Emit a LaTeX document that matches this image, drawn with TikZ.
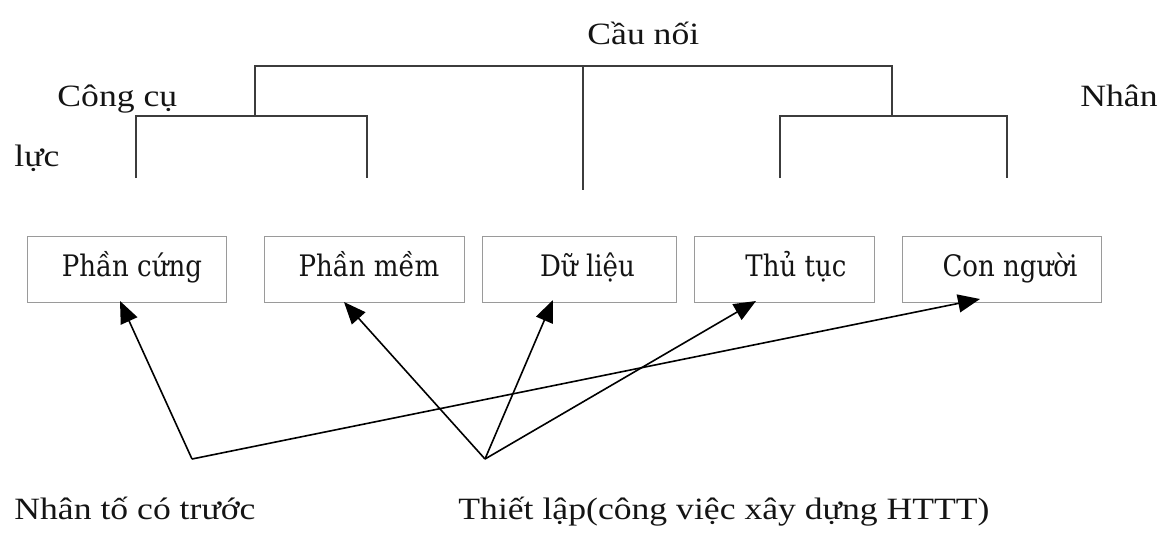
\documentclass[tikz,border=0pt]{standalone}
\usepackage{fontspec}
\setmainfont[FakeStretch=1.15]{Liberation Serif}
\newfontfamily\boxfont[FakeStretch=0.88]{DejaVu Serif}
\usetikzlibrary{arrows.meta}
\definecolor{ink}{HTML}{141414}
\definecolor{branch}{HTML}{3C3C3C}
\definecolor{frame}{HTML}{9A9A9A}
\tikzset{
  part/.style={draw=frame, line width=0.5pt, minimum height=33pt, inner sep=0pt,
    text height=11pt, text depth=3.5pt,
    font=\boxfont\fontsize{14.8}{17}\selectfont, text=ink},
  caption/.style={anchor=base west, inner sep=0pt, font=\fontsize{15.5}{18}\selectfont, text=ink},
  tree/.style={draw=branch, line width=0.8pt},
  link/.style={draw=black, line width=0.8pt, -{Triangle[length=11pt,width=9pt]}},
}
\begin{document}
\begin{tikzpicture}[x=0.5pt, y=-0.5pt]
\useasboundingbox (0,0) rectangle (1158,532);

% components of an information system
\node[part, minimum width=99.5pt] (b1) at (126.5,269) {\hspace*{5.5pt}Phần cứng};
\node[part, minimum width=100pt]  (b2) at (364,269)   {\hspace*{5pt}Phần mềm};
\node[part, minimum width=97pt]   (b3) at (579,269)   {\hspace*{8.5pt}Dữ liệu};
\node[part, minimum width=90pt]   (b4) at (784,269)   {\hspace*{12pt}Thủ tục};
\node[part, minimum width=99.5pt] (b5) at (1001.5,269){\hspace*{8.5pt}Con người};

% captions
\node[caption] (cau)  at (587,44)  {Cầu nối};
\node[caption] (cong) at (57,106)  {Công cụ};
\node[caption] (luc)  at (14,166)  {lực};
\node[caption] (nhan) at (1080,106){Nhân};
\node[caption] (pre)  at (14,519)  {Nhân tố có trước};
\node[caption] (setup) at (458,519){Thiết lập(công việc xây dựng HTTT)};

% bracket tree
\coordinate (t0) at (255,116);
\coordinate (t1) at (255,66);
\coordinate (t2) at (892,66);
\coordinate (t3) at (892,116);
\coordinate (m0) at (583,66);
\coordinate (m1) at (583,190);
\coordinate (l0) at (136,178);
\coordinate (l1) at (136,116);
\coordinate (l2) at (367,116);
\coordinate (l3) at (367,178);
\coordinate (r0) at (780,178);
\coordinate (r1) at (780,116);
\coordinate (r2) at (1007,116);
\coordinate (r3) at (1007,178);
\draw[tree] (t0) -- (t1) -- (t2) -- (t3);
\draw[tree] (m0) -- (m1);
\draw[tree] (l0) -- (l1) -- (l2) -- (l3);
\draw[tree] (r0) -- (r1) -- (r2) -- (r3);

% arrow sources and targets
\coordinate (A) at (192,459);
\coordinate (B) at (485,459);
\coordinate (p1) at (120,301);
\coordinate (p2) at (344,302);
\coordinate (p3) at (553,300);
\coordinate (p4) at (756,301);
\coordinate (p5) at (980,299);
\draw[link] (A) -- (p1);
\draw[link] (A) -- (p5);
\draw[link] (B) -- (p2);
\draw[link] (B) -- (p3);
\draw[link] (B) -- (p4);
\end{tikzpicture}
\end{document}
